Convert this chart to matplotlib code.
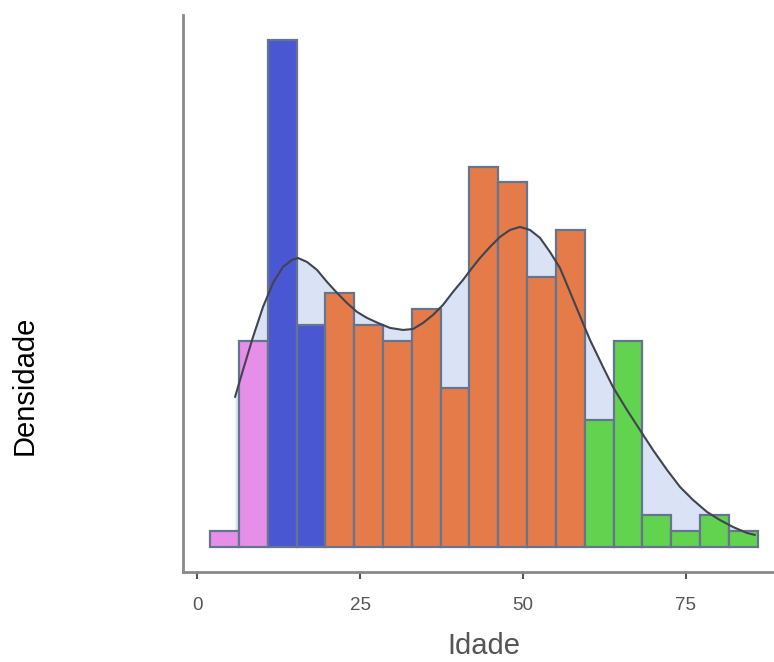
import numpy as np
import matplotlib.pyplot as plt

plt.rcParams['font.family'] = ['Liberation Sans', 'DejaVu Sans']

# histogram (19 bins from 2 to 86), counts
bin_start = 2
bin_end = 86
counts = [1, 13, 32, 14, 16, 14, 13, 15, 10, 24, 23, 17, 20, 8, 13, 2, 1, 2, 1]
groups = ['crianca', 'crianca', 'jovem', 'jovem',
          'adulto', 'adulto', 'adulto', 'adulto', 'adulto', 'adulto', 'adulto', 'adulto', 'adulto',
          'idoso', 'idoso', 'idoso', 'idoso', 'idoso', 'idoso']
group_colors = {'crianca': '#e68fe9', 'jovem': '#4a57d3', 'adulto': '#e47b48', 'idoso': '#62d34f'}

# density curve, in the same count scale as the bars
curve_x = [5.83, 7.06, 8.59, 10.12, 11.66, 13.19, 14.57, 15.49, 16.87, 18.40,
           19.94, 21.47, 23.01, 24.54, 26.07, 27.76, 29.60, 31.60, 33.13, 34.66,
           36.20, 37.73, 39.26, 40.80, 42.18, 43.40, 44.94, 46.47, 48.01, 49.54,
           51.07, 52.61, 54.14, 55.67, 57.21, 58.74, 60.28, 62.27, 63.80, 65.95,
           67.94, 69.94, 72.09, 74.08, 76.07, 78.22, 80.21, 82.21, 84.36, 85.58]
curve_c = [9.46, 11.17, 13.25, 15.14, 16.66, 17.67, 18.11, 18.23, 17.98, 17.48,
           16.72, 16.03, 15.39, 14.83, 14.45, 14.13, 13.82, 13.69, 13.75, 14.13,
           14.64, 15.27, 16.09, 16.85, 17.60, 18.23, 18.93, 19.56, 20.00, 20.19,
           20.00, 19.50, 18.61, 17.60, 16.09, 14.57, 13.06, 11.36, 10.09, 8.64,
           7.38, 6.12, 4.86, 3.79, 2.97, 2.21, 1.70, 1.26, 0.88, 0.76]

n_bins = len(counts)
edges = np.linspace(bin_start, bin_end, n_bins + 1)
width = edges[1] - edges[0]
scale = 1.0 / (sum(counts) * width)
dens = np.array(counts) * scale
curve_y = np.array(curve_c) * scale

fig = plt.figure(figsize=(7.74, 6.62), dpi=100)
ax = fig.add_axes([183 / 774, 90 / 662, 1 - 183 / 774, (572 - 15) / 662])

ax.fill_between(curve_x, 0, curve_y, color='#d9e3f5', zorder=1, lw=0)
ax.bar(edges[:-1], dens, width=width, align='edge',
       color=[group_colors[g] for g in groups],
       edgecolor='#66758f', linewidth=1.6, zorder=2)
ax.plot(curve_x, curve_y, color='#40444f', lw=1.5, zorder=3,
        solid_joinstyle='round', solid_capstyle='round')

ax.set_xlim(-2.15, 88.5)
ax.set_ylim(-1.58 * scale, 33.56 * scale)
ax.set_xticks([0, 25, 50, 75])
ax.set_yticks([])
ax.tick_params(axis='x', length=5, width=1.5, color='#555555', labelsize=13.5,
               labelcolor='#555555', pad=13)

for s in ['top', 'right']:
    ax.spines[s].set_visible(False)
for s in ['left', 'bottom']:
    ax.spines[s].set_color('#8a8a8a')
    ax.spines[s].set_linewidth(2)

fig.text(484 / 774, 1 - 646 / 662, 'Idade', ha='center', va='center',
         fontsize=21, color='#555555')
fig.text(25 / 774, 1 - 385 / 662, 'Densidade', ha='center', va='center',
         rotation=90, fontsize=21, color='black')

fig.savefig('out.png', dpi=100)
